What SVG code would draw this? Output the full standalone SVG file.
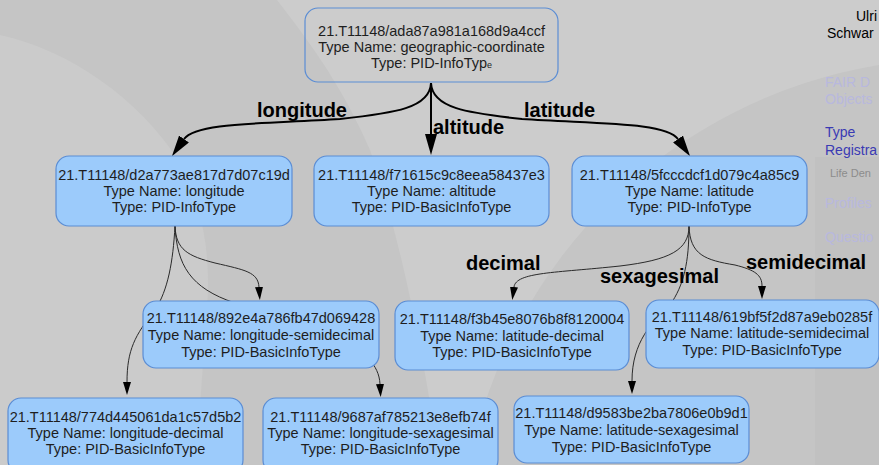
<svg xmlns="http://www.w3.org/2000/svg" width="879" height="465" viewBox="0 0 879 465">
<defs>
<style>
.nt{font-family:"Liberation Sans",Arial,sans-serif;font-size:14.5px;fill:#1e1e1e;text-anchor:middle}
.box{fill:#9ccbfb;stroke:#5b8dd4;stroke-width:1.2}
.root{fill:none;stroke:#5b8dd4;stroke-width:1.2}
.thick{fill:none;stroke:#000;stroke-width:2}
.thin{fill:none;stroke:#2a2a2a;stroke-width:1}
.el{font-family:"Liberation Sans",Arial,sans-serif;font-size:20px;font-weight:bold;fill:#000}
.sb{font-family:"Liberation Sans",Arial,sans-serif;font-size:14px}
.sbs{font-family:"Liberation Sans",Arial,sans-serif;font-size:11px;fill:#8c8c8c}
</style>
<marker id="ahT" markerUnits="userSpaceOnUse" markerWidth="21" markerHeight="12" refX="0" refY="6" orient="auto"><path d="M0,0 L21,6 L0,12 z" fill="#000"/></marker>
<marker id="aht" markerUnits="userSpaceOnUse" markerWidth="13" markerHeight="8" refX="0" refY="4" orient="auto"><path d="M0,0 L13,4 L0,8 z" fill="#000"/></marker>
</defs>
<g id="background">
<rect x="0" y="0" width="879" height="465" fill="#c5c5c5"/>
<path d="M0,35 C70,50 140,100 178,160 C205,210 212,260 206,320 L196,465 L0,465 Z" fill="#cbcbcb"/>
<path d="M277,0 C300,30 340,80 370,150 C395,220 420,330 440,465 L469,465 A500,500 0 0 1 879,65 L879,0 Z" fill="#cccccc"/>
<rect x="815" y="157" width="64" height="308" fill="#000" opacity="0.015"/>
<text class="sb" x="856" y="21" fill="#000">Ulri</text>
<text class="sb" x="827" y="38" fill="#000">Schwar</text>
<text class="sb" x="825" y="87" fill="#b8b8de">FAIR D</text>
<text class="sb" x="825" y="104" fill="#b8b8de">Objects</text>
<text class="sb" x="825" y="137" fill="#3a3ab4">Type</text>
<text class="sb" x="825" y="155" fill="#3a3ab4">Registra</text>
<text class="sbs" x="830" y="177">Life Den</text>
<text class="sb" x="825" y="208" fill="#b8b8de">Profiles</text>
<text class="sb" x="825" y="242" fill="#b8b8de">Questio</text>
</g>
<g id="edges">
<path class="thick" d="M431,83 C430,108 395,113 340,119 C265,124 196,122 184,139" marker-end="url(#ahT)"/>
<path class="thick" d="M431,83 L431,134" marker-end="url(#ahT)"/>
<path class="thick" d="M431,83 C432,108 467,113 522,119 C597,124 666,122 678,139" marker-end="url(#ahT)"/>
<path class="thin" d="M175,226 C176,250 188,256 215,263 C245,270 258,272 259,287" marker-end="url(#aht)"/>
<path class="thin" d="M175,226 C177,265 190,288 235,303 C320,330 378,345 380,384" marker-end="url(#aht)"/>
<path class="thin" d="M175,226 C173,262 168,290 155,310 C135,335 127,350 127,382" marker-end="url(#aht)"/>
<path class="thin" d="M689,226 C689,250 670,260 620,266 C555,273 516,272 514,287" marker-end="url(#aht)"/>
<path class="thin" d="M689,226 C689,262 684,285 670,305 C652,322 632,342 632,381" marker-end="url(#aht)"/>
<path class="thin" d="M689,226 C690,255 705,260 735,265 C755,270 762,275 762,286" marker-end="url(#aht)"/>
<text class="el" x="257" y="117">longitude</text>
<text class="el" x="433" y="134">altitude</text>
<text class="el" x="524" y="117">latitude</text>
<text class="el" x="466" y="270">decimal</text>
<text class="el" x="600" y="283">sexagesimal</text>
<text class="el" x="746" y="269">semidecimal</text>
</g>
<g id="n_root">
<rect class="root" x="305" y="8" width="253" height="74" rx="13"/>
<text class="nt" x="431.5" y="36">21.T11148/ada87a981a168d9a4ccf</text>
<text class="nt" x="431.5" y="52">Type Name: geographic-coordinate</text>
<text class="nt" x="431.5" y="68">Type: PID-InfoTyp<tspan font-size="9">e</tspan></text>
</g>
<g id="n_lon">
<rect class="box" x="56" y="156" width="236" height="70" rx="13"/>
<text class="nt" x="174" y="180">21.T11148/d2a773ae817d7d07c19d</text>
<text class="nt" x="174" y="196">Type Name: longitude</text>
<text class="nt" x="174" y="212">Type: PID-InfoType</text>
</g>
<g id="n_alt">
<rect class="box" x="314" y="156" width="235" height="70" rx="13"/>
<text class="nt" x="431.5" y="180">21.T11148/f71615c9c8eea58437e3</text>
<text class="nt" x="431.5" y="196">Type Name: altitude</text>
<text class="nt" x="431.5" y="212">Type: PID-BasicInfoType</text>
</g>
<g id="n_lat">
<rect class="box" x="572" y="156" width="235" height="70" rx="13"/>
<text class="nt" x="689.5" y="180">21.T11148/5fcccdcf1d079c4a85c9</text>
<text class="nt" x="689.5" y="196">Type Name: latitude</text>
<text class="nt" x="689.5" y="212">Type: PID-InfoType</text>
</g>
<g id="n_lonsemi">
<rect class="box" x="143" y="301" width="236" height="67" rx="13"/>
<text class="nt" x="261" y="323">21.T11148/892e4a786fb47d069428</text>
<text class="nt" x="261" y="340">Type Name: longitude-semidecimal</text>
<text class="nt" x="261" y="357">Type: PID-BasicInfoType</text>
</g>
<g id="n_latdec">
<rect class="box" x="395" y="301" width="234" height="69" rx="13"/>
<text class="nt" x="512" y="324">21.T11148/f3b45e8076b8f8120004</text>
<text class="nt" x="512" y="341">Type Name: latitude-decimal</text>
<text class="nt" x="512" y="357">Type: PID-BasicInfoType</text>
</g>
<g id="n_latsemi">
<rect class="box" x="646" y="300" width="233" height="68" rx="13"/>
<text class="nt" x="762" y="322">21.T11148/619bf5f2d87a9eb0285f</text>
<text class="nt" x="762" y="338">Type Name: latitude-semidecimal</text>
<text class="nt" x="762" y="355">Type: PID-BasicInfoType</text>
</g>
<g id="n_londec">
<rect class="box" x="8" y="398" width="235" height="75" rx="13"/>
<text class="nt" x="125.5" y="422">21.T11148/774d445061da1c57d5b2</text>
<text class="nt" x="125.5" y="438">Type Name: longitude-decimal</text>
<text class="nt" x="125.5" y="454">Type: PID-BasicInfoType</text>
</g>
<g id="n_lonsex">
<rect class="box" x="263" y="398" width="235" height="75" rx="13"/>
<text class="nt" x="380.5" y="422">21.T11148/9687af785213e8efb74f</text>
<text class="nt" x="380.5" y="438">Type Name: longitude-sexagesimal</text>
<text class="nt" x="380.5" y="454">Type: PID-BasicInfoType</text>
</g>
<g id="n_latsex">
<rect class="box" x="514" y="396" width="235" height="67" rx="13"/>
<text class="nt" x="631.5" y="418">21.T11148/d9583be2ba7806e0b9d1</text>
<text class="nt" x="631.5" y="435">Type Name: latitude-sexagesimal</text>
<text class="nt" x="631.5" y="452">Type: PID-BasicInfoType</text>
</g>
</svg>
